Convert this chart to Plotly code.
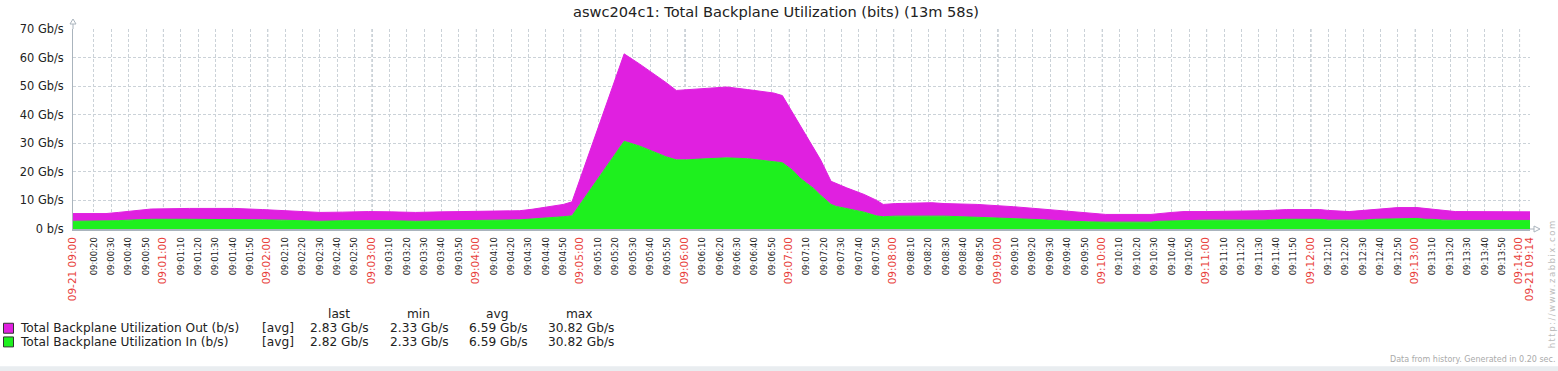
import plotly.graph_objects as go
from datetime import datetime, timedelta

# ---------------- data (Gb/s) ----------------
BASE = datetime(2023, 9, 21, 9, 0, 0)
seconds = [8, 27, 34, 40, 46, 53, 75, 101, 117, 128, 138, 150, 163, 178, 191, 205, 220, 240,
           265, 272, 278, 285, 290, 295, 325, 334, 340, 349, 355, 361, 369, 384, 396, 411,
           416, 422, 426, 430, 434, 438, 444, 447, 453, 463, 470, 474, 481, 502, 509, 528,
           540, 549, 563, 575, 585, 592, 602, 628, 632, 640, 647, 660, 693, 706, 725, 730,
           742, 750, 757, 764, 770, 781, 786, 790, 796, 803, 846]
in_gbps = [2.7, 2.7, 2.9, 3.1, 3.3, 3.4, 3.4, 3.4, 3.2, 3.1, 2.8, 2.7, 2.9, 3.0, 2.9, 2.7, 2.9, 3.0,
           3.2, 3.5, 3.6, 4.0, 4.3, 4.6, 30.7, 29.0, 27.5, 25.3, 24.2, 24.2, 24.5, 24.9, 24.6, 23.6,
           23.2, 20.5, 17.9, 16.0, 14.2, 11.8, 8.6, 7.9, 7.1, 5.9, 4.6, 4.3, 4.5, 4.5, 4.5, 4.1,
           3.9, 3.6, 3.3, 2.9, 2.6, 2.5, 2.4, 2.4, 2.7, 2.8, 3.1, 3.1, 3.1, 3.4, 3.4, 3.1,
           3.1, 3.1, 3.4, 3.5, 3.8, 3.7, 3.4, 3.4, 3.1, 3.0, 3.0]
out_gbps = [2.7, 2.7, 2.9, 3.0, 3.2, 3.6, 3.8, 3.8, 3.6, 3.4, 3.3, 3.1, 3.0, 3.1, 3.1, 3.1, 3.1, 3.1,
            3.2, 3.4, 3.8, 4.0, 4.3, 4.9, 30.6, 28.7, 27.7, 26.0, 24.3, 24.5, 24.6, 24.8, 24.2, 24.0,
            23.5, 20.1, 18.3, 16.3, 14.0, 12.4, 8.1, 8.0, 7.3, 6.2, 5.5, 4.3, 4.4, 4.7, 4.4, 4.5,
            4.3, 4.2, 3.8, 3.6, 3.5, 3.2, 2.7, 2.7, 2.7, 3.0, 3.0, 3.0, 3.3, 3.4, 3.4, 3.4,
            3.0, 3.4, 3.4, 3.7, 3.7, 3.8, 3.8, 3.4, 3.4, 3.1, 3.0]

series_names = ["Total Backplane Utilization Out (b/s)", "Total Backplane Utilization In (b/s)"]
stat_headers = ["last", "min", "avg", "max"]
stat_out = ["2.83 Gb/s", "2.33 Gb/s", "6.59 Gb/s", "30.82 Gb/s"]
stat_in = ["2.82 Gb/s", "2.33 Gb/s", "6.59 Gb/s", "30.82 Gb/s"]

y_ticks = [0, 10, 20, 30, 40, 50, 60, 70]
y_labels = ["0 b/s", "10 Gb/s", "20 Gb/s", "30 Gb/s", "40 Gb/s", "50 Gb/s", "60 Gb/s", "70 Gb/s"]

TITLE = "aswc204c1: Total Backplane Utilization (bits) (13m 58s)"
FOOTER = "Data from history. Generated in 0.20 sec."
URL = "http://www.zabbix.com"

START_S, END_S = 8, 846

# ---------------- styling ----------------
FONT = "DejaVu Sans"
GREEN = "#1ef01e"
MAGENTA = "#e020e0"
RED = "#e8413c"
TXT = "#222222"
GRID = "#cbd2d8"
GRID_MIN = "#a6b1bb"
AXIS = "#aab4bd"

W, H = 1558, 371
ML, MR, MT, MB = 73, 28, 29, 141.5
PW, PH = W - ML - MR, H - MT - MB


def xp(px):
    return (px - ML) / PW


def yp(py):
    return 1 - (py - MT) / PH


times = [BASE + timedelta(seconds=s) for s in seconds]
start_t = BASE + timedelta(seconds=START_S)
end_t = BASE + timedelta(seconds=END_S)

# ticks
tick_vals = [start_t]
tick_text = [f'<span style="color:{RED};font-size:10.5px">{start_t:%m-%d %H:%M}</span>']
minute_vals = []
for s in range(20, END_S, 10):
    t = BASE + timedelta(seconds=s)
    tick_vals.append(t)
    if s % 60 == 0:
        tick_text.append(f'<span style="color:{RED};font-size:10.5px">{t:%H:%M:%S}</span>')
        minute_vals.append(t)
    else:
        tick_text.append(f'{t:%H:%M:%S}')
tick_vals.append(end_t)
tick_text.append(f'<span style="color:{RED};font-size:10.5px">{end_t:%m-%d %H:%M}</span>')

fig = go.Figure()
fig.add_trace(go.Scatter(x=times, y=in_gbps, name=series_names[1], stackgroup="one", mode="lines",
                         line=dict(width=1, color=GREEN), fillcolor=GREEN, hoverinfo="skip"))
fig.add_trace(go.Scatter(x=times, y=out_gbps, name=series_names[0], stackgroup="one", mode="lines",
                         line=dict(width=1, color=MAGENTA), fillcolor=MAGENTA, hoverinfo="skip"))

shapes = []
for t in minute_vals:
    shapes.append(dict(type="line", xref="x", yref="paper", x0=t, x1=t, y0=1, y1=0, layer="below",
                       line=dict(color=GRID_MIN, width=1, dash="3px,2px")))
# axis arrows
shapes.append(dict(type="path", xref="paper", yref="paper", xsizemode="pixel", ysizemode="pixel",
                   xanchor=0, yanchor=1, path="M0,0 L0,5", line=dict(color=AXIS, width=1)))
shapes.append(dict(type="path", xref="paper", yref="paper", xsizemode="pixel", ysizemode="pixel",
                   xanchor=0, yanchor=1, path="M-3,5 L0,10 L3,5 Z", fillcolor="white", line=dict(color=AXIS, width=1)))
shapes.append(dict(type="path", xref="paper", yref="paper", xsizemode="pixel", ysizemode="pixel",
                   xanchor=1, yanchor=0, path="M0,0 L4,0", line=dict(color=AXIS, width=1)))
shapes.append(dict(type="path", xref="paper", yref="paper", xsizemode="pixel", ysizemode="pixel",
                   xanchor=1, yanchor=0, path="M4,-3 L10,0 L4,3 Z", fillcolor="white", line=dict(color=AXIS, width=1)))
# legend swatches
for i, col in enumerate([MAGENTA, GREEN]):
    y0 = 324 + i * 13.7
    shapes.append(dict(type="rect", xref="paper", yref="paper", x0=xp(3.5), x1=xp(13.5), y0=yp(y0), y1=yp(y0 + 10),
                       fillcolor=col, line=dict(color="#333333", width=1)))
# bottom band
shapes.append(dict(type="rect", xref="paper", yref="paper", x0=xp(0), x1=xp(W), y0=yp(367), y1=yp(H + 2),
                   fillcolor="#e9edf0", line=dict(width=0)))

ann = []
lf = dict(family=FONT, size=12.2, color=TXT)
header_x = [339, 418, 497, 579]
val_x = [308, 388, 467, 546]
for h, x in zip(stat_headers, header_x):
    ann.append(dict(text=h, x=xp(x), y=yp(314.5), xanchor="center"))
for r, (nm, st) in enumerate(zip(series_names, [stat_out, stat_in])):
    yc = 329 + r * 13.7
    ann.append(dict(text=nm, x=xp(18), y=yp(yc), xanchor="left"))
    ann.append(dict(text="[avg]", x=xp(260), y=yp(yc), xanchor="left"))
    for v, x in zip(st, val_x):
        ann.append(dict(text=v, x=xp(x), y=yp(yc), xanchor="left"))
for a in ann:
    a.update(xref="paper", yref="paper", yanchor="middle", showarrow=False, font=lf)
ann.append(dict(text=FOOTER, xref="paper", yref="paper", x=xp(1557), y=yp(360), xanchor="right", yanchor="middle",
                showarrow=False, font=dict(family=FONT, size=8, color="#aaaaaa")))
ann.append(dict(text=f'<span style="letter-spacing:1.5px">{URL}</span>', xref="paper", yref="paper", x=xp(1552),
                y=yp(285), xanchor="center", yanchor="middle", textangle=-90, showarrow=False,
                font=dict(family=FONT, size=8.5, color="#bbbbbb")))

fig.update_layout(
    width=W, height=H, margin=dict(l=ML, r=MR, t=MT, b=MB, autoexpand=False),
    paper_bgcolor="white", plot_bgcolor="white", showlegend=False,
    font=dict(family=FONT, color=TXT),
    title=dict(text=TITLE, x=776 / W, xref="container", xanchor="center", y=1 - 12 / H, yref="container",
               yanchor="middle", font=dict(family=FONT, size=14.6, color=TXT)),
    xaxis=dict(type="date", range=[start_t, end_t], tickmode="array", tickvals=tick_vals, ticktext=tick_text,
               tickangle=-90, tickfont=dict(family=FONT, size=8.5, color=TXT), showgrid=True, gridcolor=GRID,
               griddash="3px,2px", gridwidth=1, showline=True, linecolor=AXIS, linewidth=1.5, ticks="",
               zeroline=False, ticklabelstandoff=3, fixedrange=True),
    yaxis=dict(range=[0, 70], tickmode="array", tickvals=y_ticks, ticktext=y_labels, showgrid=True, gridcolor=GRID,
               griddash="3px,2px", gridwidth=1, showline=True, linecolor=AXIS, linewidth=1, ticks="",
               zeroline=False, tickfont=dict(family=FONT, size=11.4, color=TXT), ticklabelstandoff=6,
               fixedrange=True),
    shapes=shapes, annotations=ann,
)

fig.write_html("out.html", config={"displayModeBar": False},
               post_script="document.body.style.margin='0';document.body.style.overflow='hidden';")
